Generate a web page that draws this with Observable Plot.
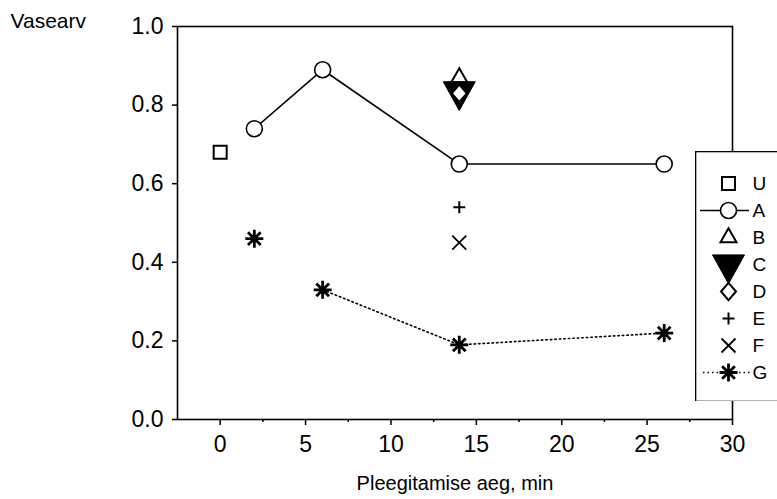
<!DOCTYPE html>
<html>
<head>
<meta charset="utf-8">
<script src="https://cdn.jsdelivr.net/npm/d3@7"></script>
<script src="https://cdn.jsdelivr.net/npm/@observablehq/plot@0.6"></script>
<style>
  html, body { margin: 0; padding: 0; background: #fff; overflow: hidden; }
  #wrap { position: relative; width: 777px; height: 499px; overflow: hidden; }
  #legend { position: absolute; left: 695px; top: 151px; width: 100px; height: 250px; }
  #legend svg { max-width: none !important; }
</style>
</head>
<body>
<div id="wrap"><div id="main"></div><div id="legend"></div></div>
<script>
// ---- data ----
const seriesNames = ["U", "A", "B", "C", "D", "E", "F", "G"];
const uTime = [0];            const uValue = [0.68];
const aTime = [2, 6, 14, 26]; const aValue = [0.74, 0.89, 0.65, 0.65];
const bTime = [14];           const bValue = [0.87];
const cTime = [14];           const cValue = [0.835];
const dTime = [14];           const dValue = [0.83];
const eTime = [14];           const eValue = [0.54];
const fTime = [14];           const fValue = [0.45];
const gTime = [2, 6, 14, 26]; const gValue = [0.46, 0.33, 0.19, 0.22];
const xMajorTicks = [0, 5, 10, 15, 20, 25, 30];
const xMinorTicks = [2.5, 7.5, 12.5, 17.5, 22.5, 27.5];
const yTicks = [0, 0.2, 0.4, 0.6, 0.8, 1.0];
const xLabel = "Pleegitamise aeg, min";
const yLabel = "Vasearv";

const pts = (t, v) => t.map((x, i) => ({x, y: v[i]}));

// ---- custom symbols ----
const rad = s => Math.sqrt(s / Math.PI);
const star8 = {draw(c, s) { const r = rad(s);
  for (const a of [0, 45, 90, 135]) { const k = a * Math.PI / 180;
    c.moveTo(-r * Math.cos(k), -r * Math.sin(k)); c.lineTo(r * Math.cos(k), r * Math.sin(k)); } }};
const triDown = {draw(c, s) { const r = rad(s), h = 1.8 * r;
  c.moveTo(-r, -h / 3); c.lineTo(r, -h / 3); c.lineTo(0, 2 * h / 3); c.closePath(); }};
const triUp = {draw(c, s) { const r = rad(s), h = 1.75 * r;
  c.moveTo(0, -2 * h / 3); c.lineTo(r, h / 3); c.lineTo(-r, h / 3); c.closePath(); }};
const diamond = {draw(c, s) { const r = rad(s);
  c.moveTo(0, -1.15 * r); c.lineTo(r, 0); c.lineTo(0, 1.15 * r); c.lineTo(-r, 0); c.closePath(); }};
const square = {draw(c, s) { const r = rad(s);
  c.rect(-r, -r, 2 * r, 2 * r); }};
const plus = {draw(c, s) { const r = rad(s);
  c.moveTo(-r, 0); c.lineTo(r, 0); c.moveTo(0, -r); c.lineTo(0, r); }};
const times = {draw(c, s) { const r = rad(s);
  c.moveTo(-r, -r); c.lineTo(r, r); c.moveTo(r, -r); c.lineTo(-r, r); }};

const styleOf = {
  U: {symbol: square, r: 6.5, fill: "white", stroke: "black", strokeWidth: 2},
  A: {symbol: "circle", r: 8, fill: "white", stroke: "black", strokeWidth: 1.6},
  B: {symbol: triUp, r: 8, fill: "white", stroke: "black", strokeWidth: 2},
  C: {symbol: triDown, r: 16, fill: "black", stroke: "black", strokeWidth: 1},
  D: {symbol: diamond, r: 7.5, fill: "white", stroke: "black", strokeWidth: 2},
  E: {symbol: plus, r: 6, fill: "none", stroke: "black", strokeWidth: 2},
  F: {symbol: times, r: 7, fill: "none", stroke: "black", strokeWidth: 1.8},
  G: {symbol: star8, r: 9, fill: "none", stroke: "black", strokeWidth: 2.8}
};
const font = "'Liberation Sans', Arial, Helvetica, sans-serif";

const main = Plot.plot({
  width: 777, height: 499,
  marginTop: 26, marginBottom: 80, marginLeft: 177, marginRight: 45,
  style: {fontFamily: font, fontSize: "23px", color: "black", background: "white"},
  x: {domain: [-2.5, 30]},
  y: {domain: [0, 1]},
  marks: [
    Plot.axisX({ticks: xMinorTicks, tickSize: 3, tickFormat: () => "", label: null, strokeWidth: 1.5}),
    Plot.axisX({ticks: xMajorTicks, tickSize: 6, tickPadding: 10, fontSize: 23, label: null, strokeWidth: 1.5}),
    Plot.axisY({ticks: yTicks, tickSize: 5, tickPadding: 9, fontSize: 23, tickFormat: d3.format(".1f"), label: null, strokeWidth: 1.5}),
    Plot.frame({stroke: "black", strokeWidth: 1.6}),
    Plot.text([xLabel], {frameAnchor: "bottom", lineAnchor: "middle", dy: 64, fontSize: 20, text: d => d}),
    Plot.text([yLabel], {frameAnchor: "top-left", lineAnchor: "middle", textAnchor: "start", dx: -167, dy: -5, fontSize: 21, text: d => d}),
    Plot.line(pts(aTime, aValue), {x: "x", y: "y", stroke: "black", strokeWidth: 1.6}),
    Plot.line(pts(gTime, gValue).slice(1), {x: "x", y: "y", stroke: "black", strokeWidth: 1.6, strokeDasharray: "1.5,3"}),
    Plot.dot(pts(uTime, uValue), {x: "x", y: "y", ...styleOf.U}),
    Plot.dot(pts(aTime, aValue), {x: "x", y: "y", ...styleOf.A}),
    Plot.dot(pts(cTime, cValue), {x: "x", y: "y", ...styleOf.C}),
    Plot.dot(pts(bTime, bValue), {x: "x", y: "y", ...styleOf.B, fill: "none"}),
    Plot.dot(pts(dTime, dValue), {x: "x", y: "y", ...styleOf.D}),
    Plot.dot(pts(eTime, eValue), {x: "x", y: "y", ...styleOf.E}),
    Plot.dot(pts(fTime, fValue), {x: "x", y: "y", ...styleOf.F}),
    Plot.dot(pts(gTime, gValue), {x: "x", y: "y", ...styleOf.G})
  ]
});
document.getElementById("main").append(main);

// ---- legend ----
const legendMarks = [
  Plot.frame({stroke: "black", strokeWidth: 1.6, fill: "white"}),
  Plot.ruleY(["A"], {y: d => d, x1: 5, x2: 54, stroke: "black", strokeWidth: 1.6}),
  Plot.ruleY(["G"], {y: d => d, x1: 8, x2: 55, stroke: "black", strokeWidth: 1.6, strokeDasharray: "1.5,3"})
];
for (const name of seriesNames) {
  legendMarks.push(Plot.dot([name], {x: () => 33, y: d => d, ...styleOf[name]}));
}
legendMarks.push(Plot.text(seriesNames, {x: () => 57, y: d => d, text: d => d, textAnchor: "start", fontSize: 19}));
const legend = Plot.plot({
  width: 100, height: 250, margin: 0,
  style: {fontFamily: font, color: "black", background: "transparent", maxWidth: "none"},
  x: {domain: [0, 100], range: [0, 100], axis: null},
  y: {type: "point", domain: seriesNames, range: [30, 222], padding: 0, axis: null},
  marks: legendMarks
});
document.getElementById("legend").append(legend);
</script>
</body>
</html>
